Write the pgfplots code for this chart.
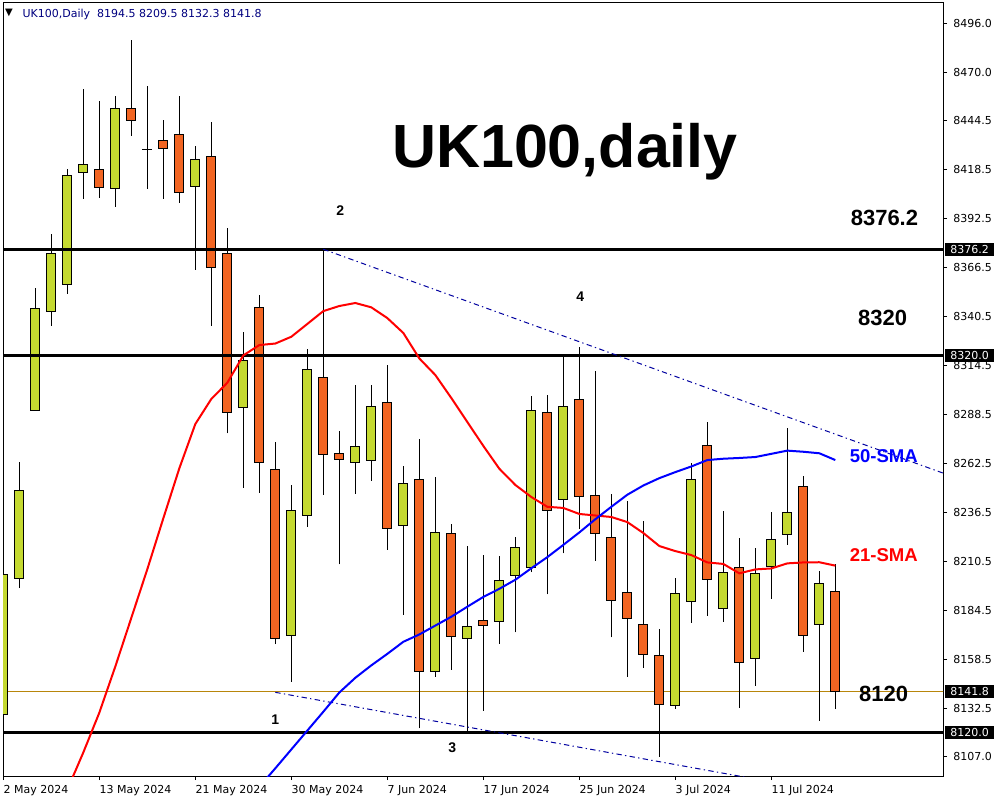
\documentclass[border=0pt]{standalone}
\usepackage{fontspec}
\setmainfont{DejaVu Sans}
\newfontfamily\lsans{Liberation Sans}
\usepackage{pgfplots}
\pgfplotsset{compat=1.18}
\usepackage{pgfplotstable}
\definecolor{bullc}{RGB}{196,217,48}
\definecolor{bearc}{RGB}{242,101,34}
\definecolor{navyc}{RGB}{0,0,128}
\definecolor{trendc}{RGB}{0,0,160}
\definecolor{goldc}{RGB}{184,134,11}
\newcommand\mtfont{\fontsize{8.25pt}{9pt}\selectfont}
\tikzset{
  bull/.style={fill=bullc, draw=black, line width=0.75pt},
  bear/.style={fill=bearc, draw=black, line width=0.75pt},
  wick/.style={draw=black, line width=0.75pt},
}
\pgfplotstableread{
i o h l c
0 8129.5 8207.8 8128.0 8203.8
1 8201.8 8263.4 8196.5 8248.5
2 8290.9 8355.5 8290.5 8344.9
3 8343.1 8384.3 8335.7 8374.1
4 8357.6 8418.6 8352.6 8415.1
5 8417.0 8461.0 8403.0 8421.3
6 8418.6 8454.8 8403.5 8409.1
7 8408.5 8457.5 8398.8 8451.0
8 8451.0 8487.2 8436.3 8444.6
9 8429.3 8462.8 8408.3 8428.9
10 8434.0 8444.7 8403.0 8429.7
11 8437.2 8457.5 8400.9 8406.4
12 8409.6 8431.0 8365.4 8423.9
13 8425.5 8443.7 8335.7 8366.6
14 8373.7 8387.5 8278.6 8289.4
15 8292.4 8332.3 8249.6 8317.3
16 8345.4 8351.9 8247.1 8263.2
17 8259.5 8274.0 8166.8 8169.9
18 8171.4 8251.2 8146.8 8237.8
19 8235.1 8323.3 8229.0 8312.5
20 8308.3 8376.2 8245.9 8267.5
21 8268.0 8279.8 8209.1 8264.8
22 8263.2 8304.2 8246.6 8271.7
23 8264.3 8304.2 8253.5 8292.9
24 8295.0 8314.8 8216.9 8228.2
25 8229.8 8261.1 8182.4 8252.1
26 8254.2 8275.6 8122.1 8152.4
27 8152.4 8255.4 8149.5 8226.1
28 8225.6 8230.5 8153.2 8170.9
29 8169.9 8218.8 8120.3 8176.2
30 8179.4 8214.0 8131.5 8176.8
31 8178.9 8213.5 8167.0 8200.6
32 8203.3 8223.6 8173.0 8218.1
33 8207.5 8298.4 8204.9 8290.8
34 8289.7 8298.9 8193.2 8237.8
35 8243.6 8319.2 8214.9 8292.9
36 8296.6 8324.5 8227.7 8245.2
37 8245.7 8311.6 8211.0 8225.6
38 8223.4 8246.4 8170.4 8190.0
39 8194.3 8242.7 8149.5 8180.5
40 8177.3 8232.1 8154.3 8161.4
41 8160.8 8174.8 8107.1 8134.9
42 8134.3 8201.8 8132.5 8193.7
43 8189.5 8262.7 8178.1 8254.2
44 8272.2 8284.6 8181.8 8201.2
45 8185.8 8237.4 8178.7 8204.9
46 8207.5 8223.1 8133.1 8157.1
47 8159.3 8217.8 8144.7 8204.3
48 8208.0 8236.9 8190.9 8222.4
49 8225.0 8281.4 8219.5 8236.7
50 8250.5 8255.8 8162.8 8171.4
51 8177.3 8205.6 8126.2 8199.0
52 8194.5 8209.5 8132.3 8141.8
}\candles
\pgfplotstableread{
i v
4 8089.6
5 8109.3
6 8130.4
7 8154.9
8 8180.7
9 8206.5
10 8233.5
11 8260.0
12 8283.5
13 8296.8
14 8305.4
15 8319.9
16 8325.4
17 8326.2
18 8329.8
19 8336.6
20 8343.4
21 8346.1
22 8347.7
23 8345.4
24 8339.7
25 8331.8
26 8318.3
27 8309.5
28 8297.3
29 8284.6
30 8271.9
31 8259.8
32 8251.2
33 8244.8
34 8239.6
35 8239.0
36 8235.8
37 8235.0
38 8234.2
39 8231.5
40 8225.7
41 8218.8
42 8216.1
43 8214.0
44 8210.1
45 8209.3
46 8204.3
47 8206.4
48 8206.9
49 8209.6
50 8210.1
51 8210.2
52 8208.4
}\smaA
\pgfplotstableread{
i v
16 8091.1
17 8100.9
18 8110.9
19 8120.9
20 8130.9
21 8141.1
22 8148.9
23 8155.5
24 8161.6
25 8168.0
26 8171.9
27 8176.6
28 8181.3
29 8186.6
30 8191.8
31 8196.1
32 8200.9
33 8207.0
34 8212.9
35 8219.4
36 8226.0
37 8233.0
38 8239.6
39 8246.0
40 8250.9
41 8254.8
42 8258.0
43 8261.0
44 8264.4
45 8265.1
46 8265.5
47 8266.0
48 8267.7
49 8269.4
50 8268.8
51 8268.0
52 8264.4
}\smaB
\begin{document}
\begin{tikzpicture}[x=0.75pt,y=0.75pt]
\fill[white] (0,0) rectangle (1000,800);
\useasboundingbox (0,0) rectangle (1000,800);
\begin{axis}[
  at={(2.25pt,18pt)}, anchor=south west,
  scale only axis, width=705pt, height=579.75pt,
  xmin=-0.02, xmax=58.73, ymin=8096.82, ymax=8506.82,
  axis line style={black, line width=0.75pt},
  clip mode=individual,
  no markers,
  ytick={8107.0,8132.5,8158.5,8184.5,8210.5,8236.5,8262.5,8288.5,8314.5,8340.5,8366.5,8392.5,8418.5,8444.5,8470.0,8496.0},
  yticklabels={8107.0,8132.5,8158.5,8184.5,8210.5,8236.5,8262.5,8288.5,8314.5,8340.5,8366.5,8392.5,8418.5,8444.5,8470.0,8496.0},
  xtick={0,6,...,48},
  xticklabels={2 May 2024,13 May 2024,21 May 2024,30 May 2024,7 Jun 2024,17 Jun 2024,25 Jun 2024,3 Jul 2024,11 Jul 2024},
  ytick pos=right, xtick pos=left,
  yticklabel pos=right, xticklabel pos=left,
  tick align=outside,
  major tick length=3pt,
  tick style={black, line width=0.75pt},
  ticklabel style={font=\mtfont, inner sep=0pt},
  xticklabel style={anchor=north west, yshift=-3.5pt},
  yticklabel style={anchor=west, xshift=4.5pt},
]
% current price line (behind candles)
\addplot[goldc, line width=0.75pt] coordinates {(0.3,8141.8) (60,8141.8)};
% candles
\pgfplotsinvokeforeach{0,...,52}{
  \pgfplotstablegetelem{#1}{o}\of\candles \let\cO\pgfplotsretval
  \pgfplotstablegetelem{#1}{h}\of\candles \let\cH\pgfplotsretval
  \pgfplotstablegetelem{#1}{l}\of\candles \let\cL\pgfplotsretval
  \pgfplotstablegetelem{#1}{c}\of\candles \let\cC\pgfplotsretval
  \pgfmathsetmacro\xa{#1-0.28}
  \pgfmathsetmacro\xb{#1+0.28}
  \ifdim\cC pt<\cO pt \def\sty{bear}\else\def\sty{bull}\fi
  \edef\doit{\noexpand\addplot[wick] coordinates {(#1,\cL) (#1,\cH)};
    \noexpand\addplot[\sty] coordinates {(\xa,\cO) (\xb,\cO) (\xb,\cC) (\xa,\cC)} -- cycle;}
  \doit
}
% horizontal levels
\addplot[black, line width=2.25pt] coordinates {(-1,8376.2) (60,8376.2)};
\addplot[black, line width=2.25pt] coordinates {(-1,8320.0) (60,8320.0)};
\addplot[black, line width=2.25pt] coordinates {(-1,8120.0) (60,8120.0)};
% trend lines
\addplot[trendc, line width=0.75pt, dash pattern=on 4pt off 2.5pt on 1pt off 2.5pt] coordinates {(20,8376.2) (60,8253.6)};
\addplot[trendc, line width=0.75pt, dash pattern=on 4pt off 2.5pt on 1pt off 2.5pt] coordinates {(17,8141.2) (60,8075.3)};
% moving averages
\addplot[red, line width=1.5pt] table[x=i, y=v] {\smaA};
\addplot[blue, line width=1.5pt] table[x=i, y=v] {\smaB};
% labels
\node[anchor=base, inner sep=0pt, font={\lsans\bfseries\fontsize{45.75pt}{50pt}\selectfont}] at (axis cs:35.1,8419.8) {UK100,daily};
\node[anchor=east, inner sep=0pt, font={\lsans\bfseries\fontsize{16.5pt}{18pt}\selectfont}] at (axis cs:57.19,8392.8) {8376.2};
\node[anchor=east, inner sep=0pt, font={\lsans\bfseries\fontsize{16.5pt}{18pt}\selectfont}] at (axis cs:56.5,8339.6) {8320};
\node[anchor=east, inner sep=0pt, font={\lsans\bfseries\fontsize{16.5pt}{18pt}\selectfont}] at (axis cs:56.56,8140.6) {8120};
\node[anchor=east, inner sep=0pt, text=blue, font={\lsans\bfseries\fontsize{13.9pt}{15pt}\selectfont}] at (axis cs:57.17,8266.5) {50-SMA};
\node[anchor=east, inner sep=0pt, text=red, font={\lsans\bfseries\fontsize{13.9pt}{15pt}\selectfont}] at (axis cs:57.17,8213.9) {21-SMA};
\node[inner sep=0pt, font={\lsans\bfseries\fontsize{10.5pt}{12pt}\selectfont}] at (axis cs:17.0,8126.5) {1};
\node[inner sep=0pt, font={\lsans\bfseries\fontsize{10.5pt}{12pt}\selectfont}] at (axis cs:21.06,8396.5) {2};
\node[inner sep=0pt, font={\lsans\bfseries\fontsize{10.5pt}{12pt}\selectfont}] at (axis cs:28.06,8111.7) {3};
\node[inner sep=0pt, font={\lsans\bfseries\fontsize{10.5pt}{12pt}\selectfont}] at (axis cs:36.06,8350.9) {4};
\node[inner sep=0pt, font={\fontsize{7.5pt}{8pt}\selectfont}] at (axis cs:0.36,8501.6) {▼};
\node[anchor=base west, inner sep=0pt, text=navyc, font=\mtfont] at (axis cs:1.19,8499.1) {UK100,Daily\ \ 8194.5 8209.5 8132.3 8141.8};
\coordinate (b1) at (axis cs:58.73,8376.2);
\coordinate (b2) at (axis cs:58.73,8320.0);
\coordinate (b3) at (axis cs:58.73,8141.8);
\coordinate (b4) at (axis cs:58.73,8120.0);
\end{axis}
\foreach \c/\t in {b1/8376.2,b2/8320.0,b3/8141.8,b4/8120.0}{
  \node[anchor=west, fill=black, text=white, font=\mtfont, inner xsep=3.75pt, inner ysep=0pt, minimum height=9.75pt, xshift=1.5pt] at (\c) {\t};
}
\end{tikzpicture}
\end{document}
